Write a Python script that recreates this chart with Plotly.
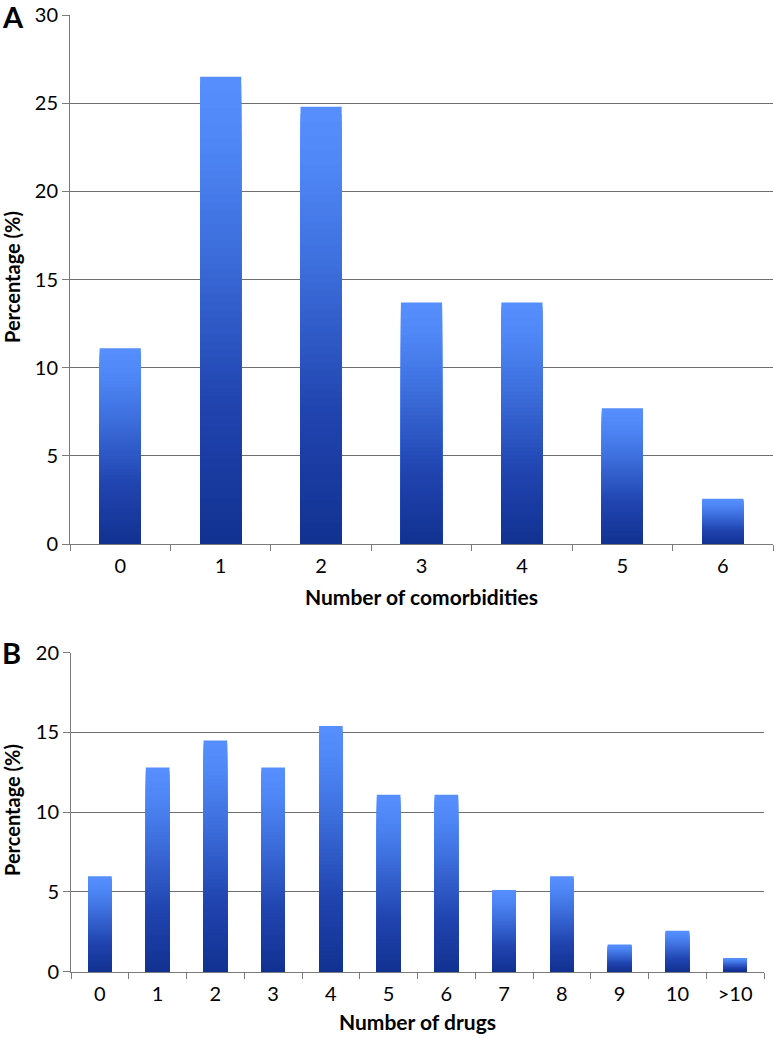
import plotly.graph_objects as go

# ---- data ----
comorb_categories = ["0", "1", "2", "3", "4", "5", "6"]
comorb_values = [11.1, 26.5, 24.8, 13.7, 13.7, 7.7, 2.56]

drug_categories = ["0", "1", "2", "3", "4", "5", "6", "7", "8", "9", "10", ">10"]
drug_values = [5.98, 12.8, 14.5, 12.8, 15.4, 11.1, 11.1, 5.13, 5.98, 1.71, 2.56, 0.85]

ytick_a = [0, 5, 10, 15, 20, 25, 30]
ytick_b = [0, 5, 10, 15, 20]

W, H = 774, 1038
FONT = "Lato"

# gradient stops (fraction of bar height from bottom -> colour)
stops = [(0.0, (18, 49, 145)), (0.3, (32, 68, 175)), (0.65, (62, 112, 222)),
         (0.85, (78, 134, 245)), (1.0, (88, 143, 255))]


def grad_color(t):
    for (t0, c0), (t1, c1) in zip(stops[:-1], stops[1:]):
        if t <= t1:
            f = (t - t0) / (t1 - t0) if t1 > t0 else 0
            c = [round(a + (b - a) * f) for a, b in zip(c0, c1)]
            return "rgb(%d,%d,%d)" % tuple(c)
    return "rgb(%d,%d,%d)" % stops[-1][1]


N = 60
fig = go.Figure()


def add_gradient_bars(cats, vals, xa, ya):
    # overlaid bars: tallest (lightest) first, progressively shorter and darker
    for k in range(N):
        frac = (N - k) / N
        fig.add_trace(go.Bar(
            x=cats, y=[v * frac for v in vals], xaxis=xa, yaxis=ya,
            marker=dict(color=grad_color(frac - 0.5 / N), line=dict(width=0)),
            showlegend=False, hoverinfo="skip"))


add_gradient_bars(comorb_categories, comorb_values, "x", "y")
add_gradient_bars(drug_categories, drug_values, "x2", "y2")

axis_col = "#7a7a7a"
common_x = dict(type="category", showline=True, linecolor=axis_col, linewidth=1,
                ticks="outside", tickson="boundaries", ticklen=6, tickcolor=axis_col,
                showgrid=False, zeroline=False, fixedrange=True, automargin=False,
                ticklabelstandoff=4,
                tickfont=dict(family=FONT, size=20, color="#000"))
common_y = dict(showline=True, linecolor=axis_col, linewidth=1, ticks="outside",
                ticklen=7, tickcolor=axis_col, showgrid=True, gridcolor="#6e6e6e",
                gridwidth=1, zeroline=False, fixedrange=True, automargin=False,
                tickfont=dict(family=FONT, size=20, color="#000"))


def py(px):
    return 1 - px / H


fig.update_layout(
    width=W, height=H, autosize=False, paper_bgcolor="white", plot_bgcolor="white",
    margin=dict(l=0, r=0, t=0, b=0, pad=0), barmode="overlay", bargap=0.59,
    showlegend=False,
    xaxis=dict(common_x, domain=[70 / W, 773 / W], anchor="y"),
    yaxis=dict(common_y, domain=[py(544), py(15)], range=[0, 30],
               tickvals=ytick_a, anchor="x"),
    xaxis2=dict(common_x, domain=[71 / W, 764 / W], anchor="y2"),
    yaxis2=dict(common_y, domain=[py(971.7), py(652.7)], range=[0, 20],
                tickvals=ytick_b, anchor="x2"),
)

ann = [
    dict(text="A", x=0, y=py(16), xanchor="left", yanchor="middle",
         font=dict(family=FONT, size=29, color="#000", weight="bold")),
    dict(text="B", x=0, y=py(652), xanchor="left", yanchor="middle",
         font=dict(family=FONT, size=29, color="#000", weight="bold")),
    dict(text="Percentage (%)", x=12 / W, y=py(277), textangle=-90,
         xanchor="center", yanchor="middle",
         font=dict(family=FONT, size=20, color="#000", weight="bold")),
    dict(text="Percentage (%)", x=12 / W, y=py(810), textangle=-90,
         xanchor="center", yanchor="middle",
         font=dict(family=FONT, size=20, color="#000", weight="bold")),
    dict(text="Number of comorbidities", x=421.5 / W, y=py(596),
         xanchor="center", yanchor="middle",
         font=dict(family=FONT, size=21, color="#000", weight="bold")),
    dict(text="Number of drugs", x=417.5 / W, y=py(1021),
         xanchor="center", yanchor="middle",
         font=dict(family=FONT, size=21, color="#000", weight="bold")),
]
for a in ann:
    a.update(xref="paper", yref="paper", showarrow=False)
fig.update_layout(annotations=ann)

fig.write_html("out.html", config={"displayModeBar": False},
               post_script="document.body.style.margin='0';document.body.style.overflow='hidden';")
